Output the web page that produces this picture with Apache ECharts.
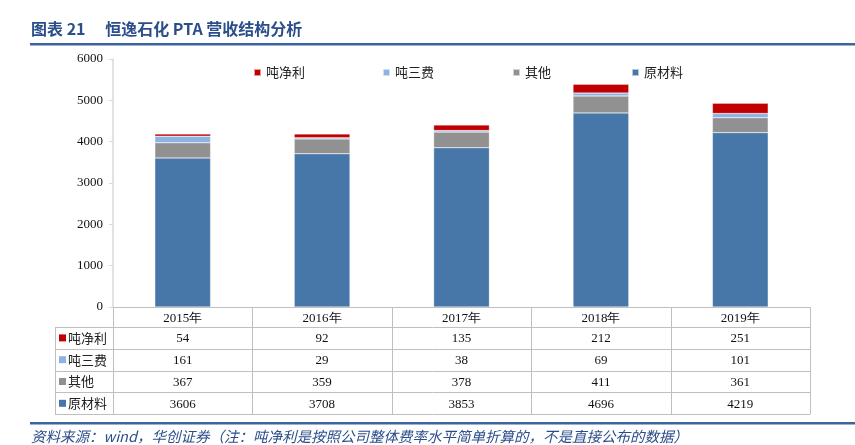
<!DOCTYPE html>
<html><head><meta charset="utf-8">
<script src="https://cdn.jsdelivr.net/npm/echarts@6/dist/echarts.min.js"></script>
<style>html,body{margin:0;padding:0;background:#fff}#c{width:855px;height:445px}</style>
</head><body><div id="c"></div>
<script>
const categories = ['2015年','2016年','2017年','2018年','2019年'];
const netProfit = [54, 92, 135, 212, 251];      // 吨净利
const threeFees = [161, 29, 38, 69, 101];       // 吨三费
const others = [367, 359, 378, 411, 361];       // 其他
const rawMaterial = [3606, 3708, 3853, 4696, 4219]; // 原材料
const yTicks = [0, 1000, 2000, 3000, 4000, 5000, 6000];

const seriesDefs = [
  {name:'原材料', data: rawMaterial, color:'#4677a8'},
  {name:'其他', data: others, color:'#919191'},
  {name:'吨三费', data: threeFees, color:'#8db3e2'},
  {name:'吨净利', data: netProfit, color:'#c00000'}
];
const tableRows = [seriesDefs[3], seriesDefs[2], seriesDefs[1], seriesDefs[0]];

const chart = echarts.init(document.getElementById('c'));
const serif = '"Liberation Serif","Times New Roman",serif';
const cjk = '"Noto Sans CJK SC",sans-serif';
const legendPos = {'吨净利':248,'吨三费':377,'其他':507,'原材料':626};

chart.setOption({
  animation:false,
  title:{text:'图表 21　 恒逸石化 PTA 营收结构分析', left:31, top:21, padding:0,
    textStyle:{fontFamily:cjk, fontSize:16, fontWeight:'bold', color:'#2b4d8a'}},
  legend: tableRows.map(s=>({data:[s.name], left:legendPos[s.name], top:61, itemWidth:7, itemHeight:7, itemGap:4,
    icon:'rect', textStyle:{fontFamily:cjk, fontSize:13, color:'#222'}})),
  grid:{left:113, right:45, top:59, bottom:138},
  xAxis:{type:'category', data:categories,
    axisLine:{show:true, lineStyle:{color:'#bfbfbf'}}, axisTick:{show:false},
    axisLabel:{fontFamily:serif, fontSize:13, color:'#111', margin:5,
      formatter:v=>v}},
  yAxis:{type:'value', min:0, max:6000, interval:1000,
    axisLine:{show:true, lineStyle:{color:'#d9d9d9', width:1.5}},
    axisTick:{show:true, length:4, lineStyle:{color:'#d9d9d9'}},
    splitLine:{show:false},
    axisLabel:{fontFamily:serif, fontSize:13, color:'#111', margin:10,
      formatter:v=> yTicks.includes(v) ? String(v) : ''}},
  series: seriesDefs.map(s=>({name:s.name, type:'bar', stack:'t', data:s.data, barWidth:'40%',
    itemStyle:{color:s.color, borderColor:'rgba(255,255,255,0.6)', borderWidth:0.5}}))
});

function drawTable(){
  const n = categories.length;
  const c0 = chart.convertToPixel({xAxisIndex:0}, 0);
  const c1 = chart.convertToPixel({xAxisIndex:0}, 1);
  const band = c1 - c0;
  const xL = c0 - band/2;
  const xR = xL + band*n;
  const y0 = chart.convertToPixel({yAxisIndex:0}, 0);
  const headerH = 20, rowH = 21.8;
  const leftX = 55;
  const lineColor = '#bfbfbf';
  const els = [];
  for(let i=0;i<=n;i++){
    const x = Math.round(xL + band*i)+0.5;
    els.push({type:'line', shape:{x1:x,y1:y0,x2:x,y2:y0+headerH+rowH*tableRows.length}, style:{stroke:lineColor, lineWidth:1}});
  }
  els.push({type:'line', shape:{x1:leftX+0.5,y1:y0+headerH,x2:leftX+0.5,y2:y0+headerH+rowH*tableRows.length}, style:{stroke:lineColor, lineWidth:1}});
  for(let r=0;r<=tableRows.length;r++){
    const y = Math.round(y0+headerH+rowH*r)+0.5;
    els.push({type:'line', shape:{x1:leftX,y1:y,x2:xR,y2:y}, style:{stroke:lineColor, lineWidth:1}});
  }
  tableRows.forEach((s,r)=>{
    const yc = y0+headerH+rowH*r+rowH/2;
    els.push({type:'rect', shape:{x:leftX+4, y:yc-3.5, width:7, height:7}, style:{fill:s.color}});
    els.push({type:'text', style:{x:leftX+13, y:yc, text:s.name, fontFamily:cjk, fontSize:13, fill:'#222', textVerticalAlign:'middle'}});
    s.data.forEach((v,i)=>{
      els.push({type:'text', style:{x:c0+band*i, y:yc+1, text:String(v), fontFamily:serif, fontSize:13, fill:'#111', textAlign:'center', textVerticalAlign:'middle'}});
    });
  });
  els.push({type:'rect', shape:{x:30, y:43, width:825, height:2.5}, style:{fill:'#3c64a0'}});
  els.push({type:'rect', shape:{x:30, y:422, width:825, height:2.5}, style:{fill:'#3c64a0'}});
  els.push({type:'text', style:{x:31, y:436, text:'资料来源：wind，华创证券（注：吨净利是按照公司整体费率水平简单折算的，不是直接公布的数据）',
    fontFamily:cjk, fontStyle:'italic', fontSize:14.5, fill:'#2b4d8a', textVerticalAlign:'middle'}});
  chart.setOption({graphic:{elements:els}});
}
drawTable();
</script>
</body></html>
